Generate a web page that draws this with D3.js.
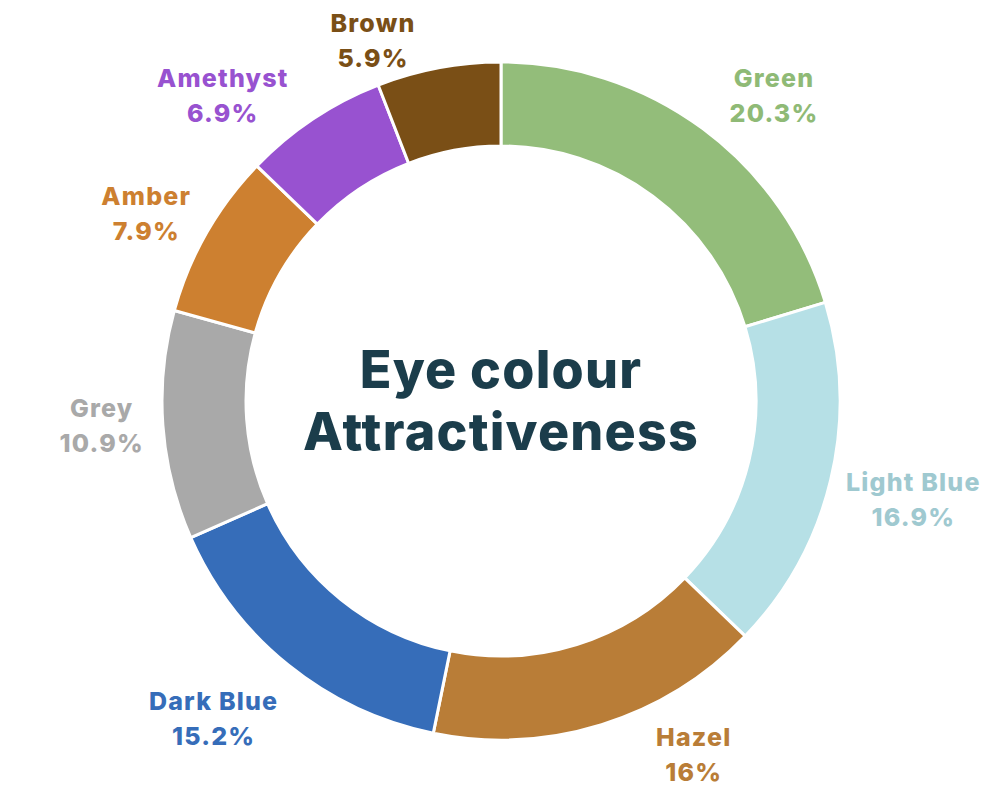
<!DOCTYPE html>
<html>
<head>
<meta charset="utf-8">
<script src="https://cdn.jsdelivr.net/npm/d3@7"></script>
<style>
  html, body { margin: 0; padding: 0; background: #fff; }
  svg { display: block; }
  text { font-family: Inter, "Noto Sans", sans-serif; font-weight: 800; }
</style>
</head>
<body>
<div id="chart"></div>
<script>
// data
const colours = ["Green", "Light Blue", "Hazel", "Dark Blue", "Grey", "Amber", "Amethyst", "Brown"];
const shares = [20.3, 16.9, 16, 15.2, 10.9, 7.9, 6.9, 5.9];
const sliceColours = ["#93bd7a", "#b6e0e6", "#b97d37", "#366db9", "#a9a9a9", "#cd8030", "#9852d0", "#7a4f16"];
const labelColours = ["#8fba76", "#9fc9d0", "#b97d37", "#366db9", "#a9a9a9", "#cd8030", "#9852d0", "#7a4f16"];
const titleLines = ["Eye colour", "Attractiveness"];

const width = 1002;
const height = 800;
const cx = 501, cy = 401;
const outerR = 339;
const innerR = 255;

// label placement tweaks (angle shift in degrees, distance from centre)
const labelShift = {
  "Green": [5.2, 410],
  "Light Blue": [0, 424],
  "Hazel": [-11.3, 403],
  "Dark Blue": [3.3, 428],
  "Grey": [0.7, 400],
  "Amber": [-1.9, 401],
  "Amethyst": [-8.7, 413],
  "Brown": [-8.9, 383]
};

const data = colours.map((c, i) => ({ name: c, value: shares[i], fill: sliceColours[i], label: labelColours[i] }));

const svg = d3.select("#chart").append("svg")
  .attr("width", width)
  .attr("height", height);

const g = svg.append("g").attr("transform", `translate(${cx},${cy})`);

const pie = d3.pie().value(d => d.value).sort(null);
const arc = d3.arc().innerRadius(innerR).outerRadius(outerR);
const arcs = pie(data);

g.selectAll("path.slice")
  .data(arcs)
  .enter().append("path")
  .attr("class", "slice")
  .attr("d", arc)
  .attr("fill", d => d.data.fill)
  .attr("stroke", "#fff")
  .attr("stroke-width", 3)
  .attr("stroke-linejoin", "round");

// outside labels
const labels = g.selectAll("text.label")
  .data(arcs)
  .enter().append("text")
  .attr("class", "label")
  .attr("text-anchor", "middle")
  .attr("font-size", 25)
  .attr("letter-spacing", 1.2)
  .attr("fill", d => d.data.label)
  .attr("transform", d => {
    const s = labelShift[d.data.name];
    const a = (d.startAngle + d.endAngle) / 2 + s[0] * Math.PI / 180;
    const x = Math.sin(a) * s[1];
    const y = -Math.cos(a) * s[1];
    return `translate(${x},${y})`;
  });

labels.append("tspan")
  .attr("x", 0)
  .attr("y", -8.5)
  .text(d => d.data.name);

labels.append("tspan")
  .attr("x", 0)
  .attr("y", 26.5)
  .text(d => d.data.value + "%");

// centre title
g.append("text")
  .attr("text-anchor", "middle")
  .attr("font-size", 52)
  .attr("letter-spacing", 1.2)
  .attr("fill", "#1b3d4b")
  .selectAll("tspan")
  .data(titleLines)
  .enter().append("tspan")
  .attr("x", 0)
  .attr("y", (d, i) => -13 + i * 62)
  .text(d => d);
</script>
</body>
</html>
